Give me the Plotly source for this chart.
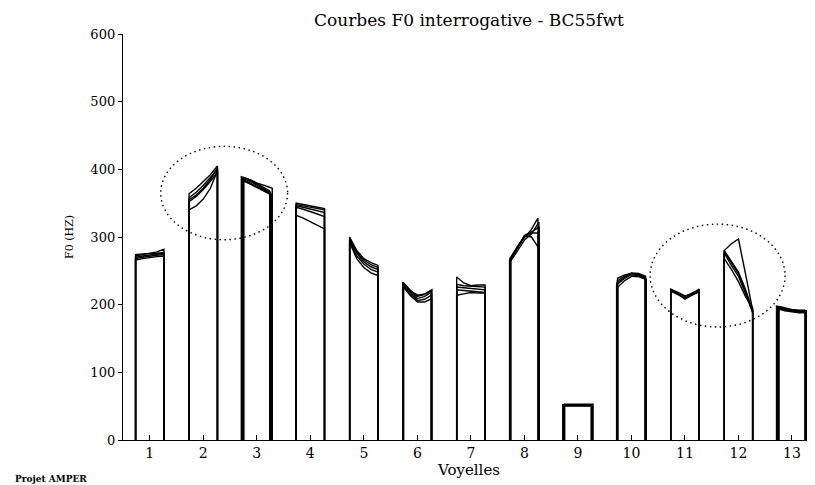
import plotly.graph_objects as go
import numpy as np

# ---- data: F0 (Hz) curves, several repetitions per vowel ----
vowels = list(range(1, 14))
tick_labels = [str(v) for v in vowels]
y_ticks = [0, 100, 200, 300, 400, 500, 600]

V1 = [[272, 274, 276, 278, 282], [270, 272, 273, 275, 276], [268, 270, 272, 273, 274],
      [274, 275, 275, 276, 277], [266, 268, 270, 271, 272]]
V2 = [[364, 372, 382, 392, 405], [358, 366, 376, 388, 400], [352, 360, 370, 382, 396],
      [340, 346, 356, 372, 398], [355, 362, 372, 385, 402]]
V3 = [[389, 385, 380, 374, 368], [387, 383, 378, 372, 366], [385, 380, 375, 369, 364],
      [383, 378, 373, 367, 362], [388, 384, 379, 376, 372]]
V4 = [[350, 348, 346, 344, 342], [348, 346, 344, 342, 340], [346, 344, 341, 338, 336],
      [344, 341, 338, 334, 330], [332, 328, 323, 318, 312]]
V5 = [[300, 280, 268, 262, 258], [298, 276, 263, 256, 252], [295, 272, 260, 252, 248],
      [292, 268, 255, 247, 243], [296, 278, 266, 259, 255]]
V6 = [[233, 222, 212, 215, 220], [230, 219, 209, 212, 218], [228, 216, 206, 208, 214],
      [226, 213, 204, 204, 209], [232, 220, 214, 216, 222]]
V7 = [[241, 232, 228, 229, 229], [230, 228, 227, 226, 226], [226, 225, 224, 223, 222],
      [222, 221, 220, 219, 218], [214, 216, 218, 217, 217]]
V8 = [[266, 282, 298, 310, 328], [268, 285, 300, 306, 306], [266, 283, 302, 300, 284],
      [264, 280, 296, 305, 322], [268, 286, 303, 308, 315]]
V9 = [[52, 52, 52, 52, 52], [51, 51, 51, 51, 51], [50, 50, 50, 50, 50], [53, 53, 53, 53, 53]]
V10 = [[229, 238, 244, 243, 240], [232, 240, 246, 245, 241], [235, 242, 247, 246, 242],
       [239, 244, 246, 244, 238], [226, 236, 242, 241, 237]]
V11 = [[222, 217, 212, 217, 222], [220, 215, 210, 215, 220], [221, 216, 208, 214, 219],
       [223, 218, 213, 216, 223]]
V12 = [[280, 290, 297, 245, 192], [280, 264, 248, 222, 192], [278, 262, 246, 220, 190],
       [276, 258, 242, 216, 188], [268, 252, 234, 212, 195]]
V13 = [[198, 196, 193, 192, 192], [196, 193, 191, 190, 190], [194, 191, 189, 188, 188],
       [197, 194, 192, 191, 191], [195, 192, 190, 189, 189]]

curves = [V1, V2, V3, V4, V5, V6, V7, V8, V9, V10, V11, V12, V13]
# small variation in segment boundaries between repetitions (thickens the verticals)
spread = [0.0, 0.0, 0.012, 0.0, 0.0, 0.004, 0.0, 0.006, 0.012, 0.006, 0.0, 0.0, 0.012]

HALF = 0.265
fig = go.Figure()
for v, reps, sp in zip(vowels, curves, spread):
    for k, rep in enumerate(reps):
        n = len(rep)
        off = (k - (len(reps) - 1) / 2) * sp
        xs = list(np.linspace(v - HALF + off, v + HALF + off, n))
        x = [xs[0]] + xs + [xs[-1]]
        y = [0] + list(rep) + [0]
        fig.add_trace(go.Scatter(x=x, y=y, mode="lines",
                                 line=dict(color="black", width=1.4),
                                 showlegend=False, hoverinfo="skip"))

fig.add_shape(type="circle", xref="x", yref="y", x0=1.205, x1=3.575, y0=296, y1=434,
              line=dict(color="black", width=1.4, dash="1.5px,3.5px"))
fig.add_shape(type="circle", xref="x", yref="y", x0=10.35, x1=12.87, y0=167, y1=319,
              line=dict(color="black", width=1.4, dash="1.5px,3.5px"))

# page has an 8px body margin: figure is 807x477, offsets compensated
W, H = 807, 477
L, T, B = 115, 26, 45
PW, PH = W - L, H - T - B

serif = "DejaVu Serif, Liberation Serif, serif"
fig.update_layout(
    width=W, height=H,
    margin=dict(l=L, r=0, t=T, b=B, autoexpand=False),
    paper_bgcolor="white", plot_bgcolor="white",
    font=dict(family=serif, size=13, color="black"),
    xaxis=dict(range=[0.5, 13.43], tickvals=vowels, ticktext=tick_labels, automargin=False,
               showgrid=False, zeroline=False, showline=True, linecolor="black", linewidth=1.4,
               ticks="inside", ticklen=5, tickcolor="black", tickwidth=1.4,
               tickfont=dict(family=serif, size=14),
               title=dict(text="Voyelles", standoff=0, font=dict(family=serif, size=15))),
    yaxis=dict(range=[0, 600], tickvals=y_ticks, automargin=False,
               showgrid=False, zeroline=False, showline=True, linecolor="black", linewidth=1.4,
               ticks="outside", ticklen=4, tickcolor="black", tickwidth=1.4,
               tickfont=dict(family=serif, size=13),
               title=dict(text="F0 (HZ)", standoff=14, font=dict(family=serif, size=11))),
)
# title as an annotation (fully inside the figure)
fig.add_annotation(text="Courbes F0 interrogative - BC55fwt", xref="paper", yref="paper",
                   x=(461 - L) / PW, y=1 + (T - 12) / PH, xanchor="center", yanchor="middle",
                   showarrow=False, font=dict(family=serif, size=17, color="black"))
fig.add_annotation(text="<b>Projet AMPER</b>", xref="paper", yref="paper",
                   x=-(L - 5) / PW, y=-(471 - (T + PH)) / PH, xanchor="left", yanchor="middle",
                   showarrow=False, font=dict(family=serif, size=9, color="black"))

fig.write_html("out.html")
